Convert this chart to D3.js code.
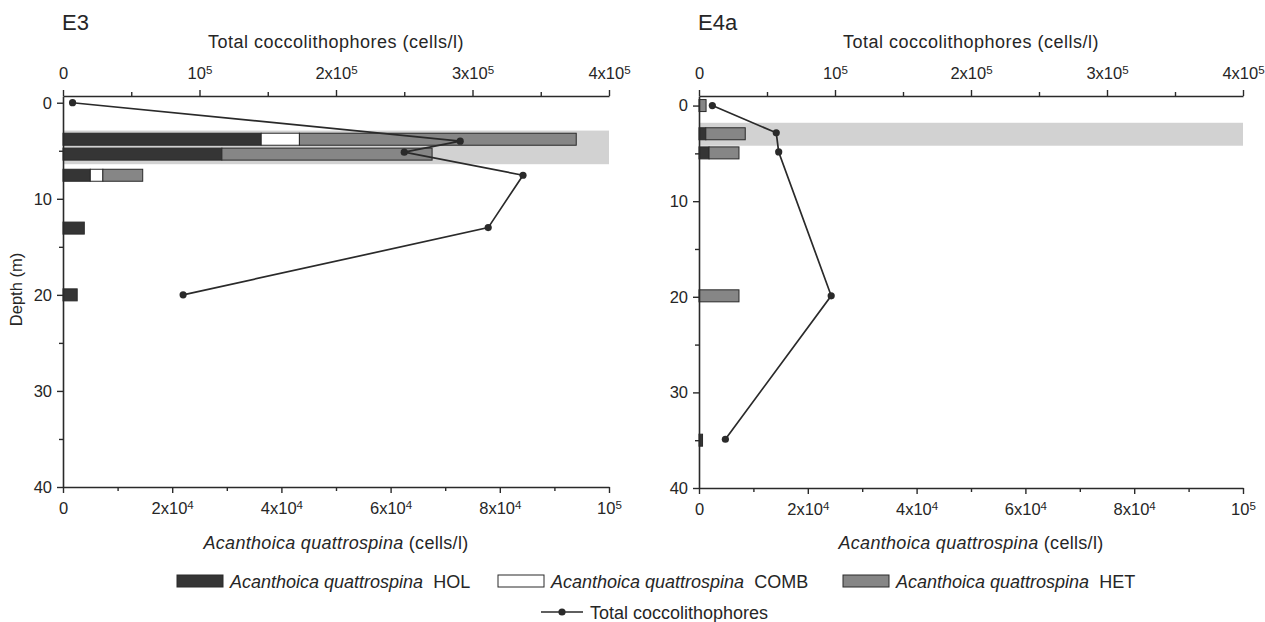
<!DOCTYPE html>
<html>
<head>
<meta charset="utf-8">
<script src="https://cdn.jsdelivr.net/npm/d3@7"></script>
<style>
  body { margin: 0; background: #fff; }
  svg { font-family: "Liberation Sans", Arial, sans-serif; }
</style>
</head>
<body>
<div id="chart"></div>
<script>
// tick values
var depthMajor = [0, 10, 20, 30, 40],
    depthMinor = [5, 15, 25, 35],
    topMajor = [0, 1e5, 2e5, 3e5, 4e5],
    topMinor = [0.5e5, 1.5e5, 2.5e5, 3.5e5],
    bottomMajor = [0, 2e4, 4e4, 6e4, 8e4, 1e5],
    bottomMinor = [1e4, 3e4, 5e4, 7e4, 9e4];

var seriesNames = ["HOL", "COMB", "HET"];

// station E3
var e3BarDepth = [3.8, 5.35, 7.55, 13.05, 20.0],
    e3Hol  = [36300, 29100, 5000, 3900, 2600],
    e3Comb = [7000, 0, 2300, 0, 0],
    e3Het  = [50700, 38500, 7300, 0, 0],
    e3TotalDepth = [0, 4.0, 5.15, 7.55, 13.0, 20.0],
    e3Total = [7000, 291000, 250000, 337000, 311500, 88000],
    e3Band = [2.9, 6.4];

// station E4a
var e4aBarDepth = [0, 2.95, 4.95, 19.9, 35.0],
    e4aHol  = [0, 1250, 1850, 0, 650],
    e4aComb = [0, 0, 0, 0, 0],
    e4aHet  = [1300, 7250, 5500, 7350, 0],
    e4aTotalDepth = [0, 2.85, 4.85, 19.9, 34.9],
    e4aTotal = [9800, 56800, 58600, 97200, 19400],
    e4aBand = [1.8, 4.2];

var W = 1265, H = 622;
var colors = {HOL: "#353535", COMB: "#ffffff", HET: "#868686"};
var ink = "#2a2a2a", txt = "#262626";

var svg = d3.select("#chart").append("svg")
  .attr("width", W).attr("height", H);

var panels = [
  {title: "E3", x0: 63, x1: 609, y0: 96, y1: 487, dmin: -0.7, depthLabel: true,
   barDepth: e3BarDepth, HOL: e3Hol, COMB: e3Comb, HET: e3Het,
   totalDepth: e3TotalDepth, total: e3Total, band: e3Band},
  {title: "E4a", x0: 699, x1: 1243, y0: 96, y1: 488, dmin: -1, depthLabel: false,
   barDepth: e4aBarDepth, HOL: e4aHol, COMB: e4aComb, HET: e4aHet,
   totalDepth: e4aTotalDepth, total: e4aTotal, band: e4aBand}
];

function sciParts(v) {
  if (v === 0) return ["0", ""];
  var e = Math.floor(Math.log10(v) + 1e-9),
      m = Math.round(v / Math.pow(10, e));
  return [(m === 1 ? "" : m + "x") + "10", String(e)];
}

function supLabels(sel) {
  sel.selectAll(".tick text").each(function(v) {
    var t = d3.select(this), p = sciParts(v);
    t.text(null);
    t.append("tspan").text(p[0]);
    if (p[1]) t.append("tspan").attr("dy", "-0.45em").attr("font-size", "70%").text(p[1]);
  });
}

function styleAxis(sel) {
  sel.selectAll("path").attr("stroke", ink).attr("stroke-width", 1.6);
  sel.selectAll("line").attr("stroke", ink).attr("stroke-width", 1.4);
  sel.selectAll("text").attr("fill", txt).style("font-size", "16.5px");
}

panels.forEach(function(p) {
  var g = svg.append("g");
  var y = d3.scaleLinear().domain([p.dmin, 40]).range([p.y0, p.y1]);
  var xTop = d3.scaleLinear().domain([0, 4e5]).range([p.x0, p.x1]);
  var xBot = d3.scaleLinear().domain([0, 1e5]).range([p.x0, p.x1]);
  var barH = 12;

  // shaded layer
  g.append("rect")
    .attr("x", p.x0).attr("width", p.x1 - p.x0)
    .attr("y", y(p.band[0])).attr("height", y(p.band[1]) - y(p.band[0]))
    .attr("fill", "#d2d2d2");

  // stacked bars
  p.barDepth.forEach(function(d, i) {
    var acc = 0;
    seriesNames.forEach(function(s) {
      var v = p[s][i];
      if (v <= 0) return;
      g.append("rect")
        .attr("x", xBot(acc)).attr("width", xBot(acc + v) - xBot(acc))
        .attr("y", y(d) - barH / 2).attr("height", barH)
        .attr("fill", colors[s]).attr("stroke", ink).attr("stroke-width", 1);
      acc += v;
    });
  });

  // total line
  var pts = p.totalDepth.map(function(d, i) { return [xTop(p.total[i]), y(d)]; });
  g.append("path")
    .attr("d", d3.line()(pts))
    .attr("fill", "none").attr("stroke", ink).attr("stroke-width", 1.7);
  g.selectAll(".dot").data(pts).enter().append("circle")
    .attr("cx", function(d) { return d[0]; })
    .attr("cy", function(d) { return d[1]; })
    .attr("r", 3.6).attr("fill", ink);

  // axes
  var gl = g.append("g").attr("transform", "translate(" + p.x0 + ",0)")
    .call(d3.axisLeft(y).tickValues(depthMajor).tickSize(6).tickSizeOuter(0).tickPadding(5));
  g.append("g").attr("transform", "translate(" + p.x0 + ",0)")
    .call(d3.axisLeft(y).tickValues(depthMinor).tickSize(4).tickSizeOuter(0).tickFormat(""))
    .call(function(s) { s.select(".domain").remove(); }).call(styleAxis);
  styleAxis(gl);

  var gt = g.append("g").attr("transform", "translate(0," + p.y0 + ")")
    .call(d3.axisTop(xTop).tickValues(topMajor).tickSize(6).tickSizeOuter(0).tickPadding(11));
  g.append("g").attr("transform", "translate(0," + p.y0 + ")")
    .call(d3.axisTop(xTop).tickValues(topMinor).tickSize(4).tickSizeOuter(0).tickFormat(""))
    .call(function(s) { s.select(".domain").remove(); }).call(styleAxis);
  styleAxis(gt); supLabels(gt);

  var gb = g.append("g").attr("transform", "translate(0," + p.y1 + ")")
    .call(d3.axisBottom(xBot).tickValues(bottomMajor).tickSize(6).tickSizeOuter(0).tickPadding(9));
  g.append("g").attr("transform", "translate(0," + p.y1 + ")")
    .call(d3.axisBottom(xBot).tickValues(bottomMinor).tickSize(4).tickSizeOuter(0).tickFormat(""))
    .call(function(s) { s.select(".domain").remove(); }).call(styleAxis);
  styleAxis(gb); supLabels(gb);

  // titles
  var cx = (p.x0 + p.x1) / 2;
  g.append("text").attr("x", p.x0 - 1).attr("y", 30)
    .attr("font-size", "22px").attr("fill", txt).text(p.title);
  g.append("text").attr("x", cx).attr("y", 48).attr("text-anchor", "middle")
    .attr("font-size", "18px").attr("letter-spacing", "0.5px").attr("fill", txt)
    .text("Total coccolithophores (cells/l)");
  var bt = g.append("text").attr("x", cx).attr("y", 549).attr("text-anchor", "middle")
    .attr("font-size", "18px").attr("letter-spacing", "0.3px").attr("fill", txt);
  bt.append("tspan").attr("font-style", "italic").text("Acanthoica quattrospina");
  bt.append("tspan").text(" (cells/l)");

  if (p.depthLabel) {
    g.append("text")
      .attr("transform", "translate(22," + ((p.y0 + p.y1) / 2 - 2) + ") rotate(-90)")
      .attr("text-anchor", "middle").attr("font-size", "16.5px").attr("fill", txt)
      .text("Depth (m)");
  }
});

// legend
var legendX = [177, 498, 843];
seriesNames.forEach(function(s, i) {
  var lg = svg.append("g").attr("transform", "translate(" + legendX[i] + ",575)");
  lg.append("rect").attr("width", 46).attr("height", 12)
    .attr("fill", colors[s]).attr("stroke", ink).attr("stroke-width", 1);
  var t = lg.append("text").attr("x", 53).attr("y", 12.5)
    .attr("font-size", "18px").attr("fill", txt);
  t.append("tspan").attr("font-style", "italic").text("Acanthoica quattrospina");
  t.append("tspan").text("\u00a0 " + s);
});
var l2 = svg.append("g").attr("transform", "translate(541,612)");
l2.append("line").attr("x1", 0).attr("x2", 42).attr("stroke", ink).attr("stroke-width", 1.7);
l2.append("circle").attr("cx", 21).attr("r", 3.6).attr("fill", ink);
l2.append("text").attr("x", 49).attr("y", 6.5).attr("font-size", "18px").attr("fill", txt)
  .text("Total coccolithophores");
</script>
</body>
</html>
